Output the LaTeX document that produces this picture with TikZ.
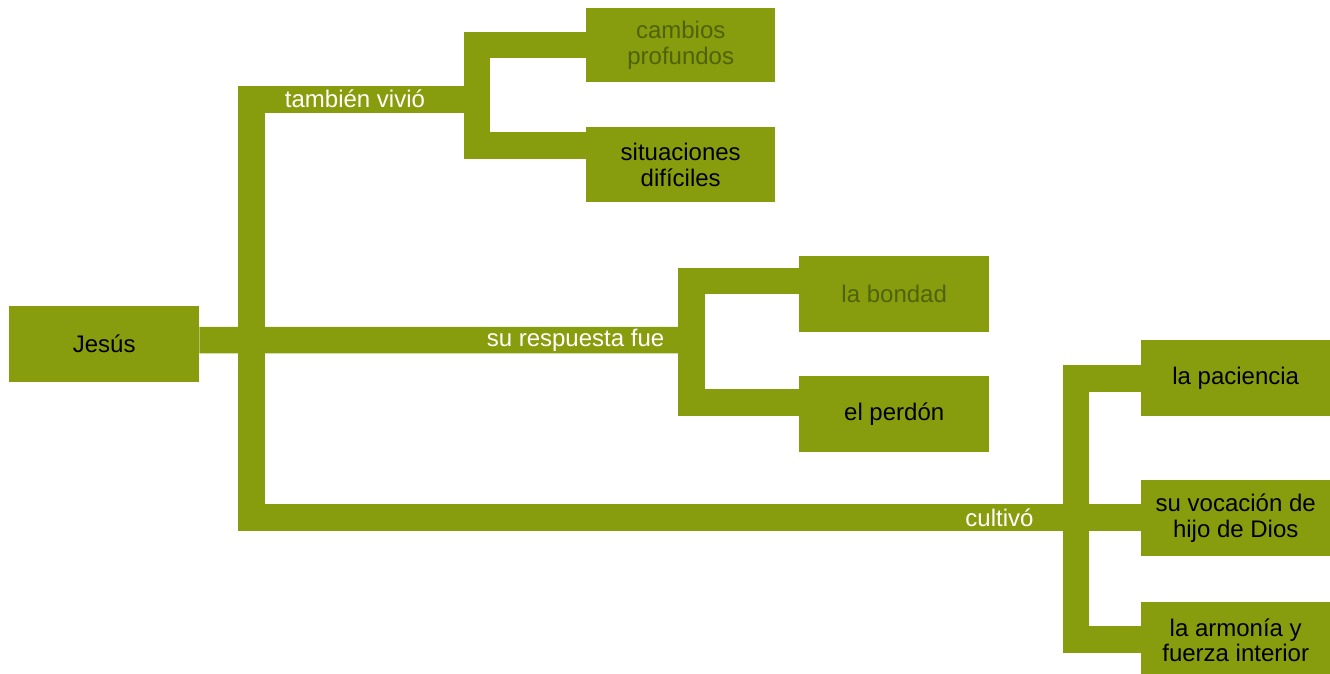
\documentclass[tikz,border=0pt]{standalone}
\usepackage{fontspec}
\setmainfont{Liberation Sans}
\pgfdeclarelayer{background}
\pgfsetlayers{background,main}
\definecolor{olive}{HTML}{889D0D}
\definecolor{dimtxt}{HTML}{4F6208}
\tikzset{
  box/.style={fill=olive, draw=none, minimum width=190pt, minimum height=76pt, inner sep=0pt, align=center, font=\fontsize{24}{25.5}\selectfont, text=black, anchor=north west},
  dimbox/.style={box, text=dimtxt},
  bar/.style={draw=olive, line width=26.5pt, line cap=butt, line join=miter},
  lbl/.style={text=white, inner sep=0pt, font=\fontsize{24}{25.5}\selectfont}
}
\begin{document}
\begin{tikzpicture}[x=1pt,y=-1pt]
\useasboundingbox (0,0) rectangle (1330,674);
% boxes
\path (9,306) node[box] (jesus) {Jesús};
\path (586,8) node[dimbox,minimum width=189pt,minimum height=74pt] (cambios) {cambios\\profundos};
\path (586,127) node[box,minimum width=189pt,minimum height=75pt] (situ) {situaciones\\difíciles};
\path (799,256) node[dimbox] (bondad) {la bondad};
\path (799,376) node[box] (perdon) {el perdón};
\path (1141,340) node[box,minimum width=189pt] (paciencia) {la paciencia};
\path (1141,480) node[box,minimum width=189pt] (vocacion) {su vocación de\\hijo de Dios};
\path (1141,602) node[box,minimum width=189pt] (armonia) {la armonía y\\fuerza interior};
% fork coordinates
\coordinate (trunk) at (251.5,99.5);
\coordinate (forkA) at (477,99.5);
\coordinate (forkB) at (691.5,340);
\coordinate (forkC) at (1076,517.5);
% bars
\begin{pgfonlayer}{background}
\draw[bar] (forkA) -- (trunk) -- (trunk |- forkC) -- (forkC);
\draw[bar] ([yshift=4pt]jesus.east) -- (forkB);
\draw[bar] (cambios.west) -| (forkA) |- ([yshift=-18.5pt]situ.north west);
\draw[bar] ([yshift=-25pt]bondad.north west) -| (forkB) |- ([yshift=-26.5pt]perdon.north west);
\draw[bar] ([yshift=-38.5pt]paciencia.north west) -| (forkC) |- ([yshift=-37.5pt]armonia.north west);
\draw[bar] (forkC) -- ([yshift=-37.5pt]vocacion.north west);
\end{pgfonlayer}
% labels
\node[lbl] (l1) at (355,99) {también vivió};
\node[lbl] (l2) at (575.5,340) {su respuesta fue};
\node[lbl] (l3) at (999.5,517.5) {cultivó};
\end{tikzpicture}
\end{document}
